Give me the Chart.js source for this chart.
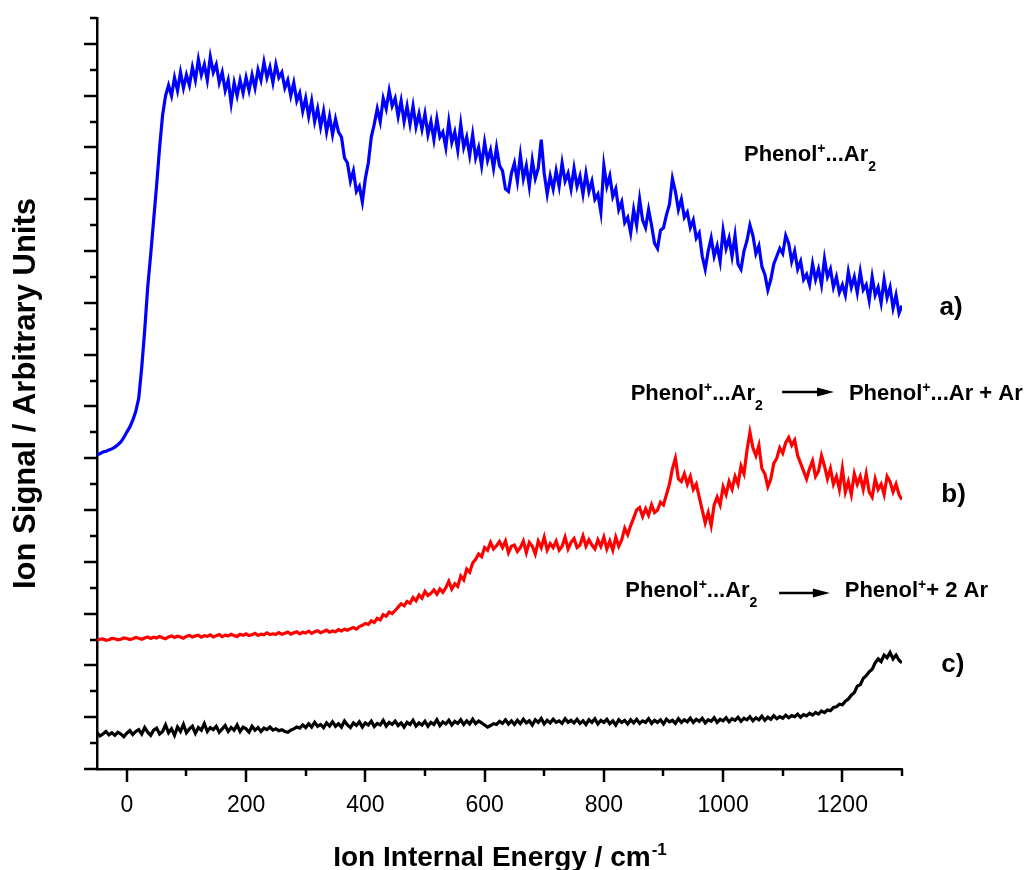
<!DOCTYPE html>
<html>
<head>
<meta charset="utf-8">
<script src="https://cdn.jsdelivr.net/npm/chart.js@4.4.1/dist/chart.umd.min.js"></script>
<style>
  html, body { margin: 0; padding: 0; background: #fff; }
  canvas { display: block; }
</style>
</head>
<body>
<canvas id="chart" width="1033" height="870"></canvas>
<script>
// ion internal energy, cm-1 (one row = 100 cm-1)
const energy = [
  -50, -45, -40, -35, -30, -25, -20, -15, -10, -5, 0, 5, 10, 15, 20, 25, 30, 35, 40, 45,
  50, 55, 60, 65, 70, 75, 80, 85, 90, 95, 100, 105, 110, 115, 120, 125, 130, 135, 140, 145,
  150, 155, 160, 165, 170, 175, 180, 185, 190, 195, 200, 205, 210, 215, 220, 225, 230, 235, 240, 245,
  250, 255, 260, 265, 270, 275, 280, 285, 290, 295, 300, 305, 310, 315, 320, 325, 330, 335, 340, 345,
  350, 355, 360, 365, 370, 375, 380, 385, 390, 395, 400, 405, 410, 415, 420, 425, 430, 435, 440, 445,
  450, 455, 460, 465, 470, 475, 480, 485, 490, 495, 500, 505, 510, 515, 520, 525, 530, 535, 540, 545,
  550, 555, 560, 565, 570, 575, 580, 585, 590, 595, 600, 605, 610, 615, 620, 625, 630, 635, 640, 645,
  650, 655, 660, 665, 670, 675, 680, 685, 690, 695, 700, 705, 710, 715, 720, 725, 730, 735, 740, 745,
  750, 755, 760, 765, 770, 775, 780, 785, 790, 795, 800, 805, 810, 815, 820, 825, 830, 835, 840, 845,
  850, 855, 860, 865, 870, 875, 880, 885, 890, 895, 900, 905, 910, 915, 920, 925, 930, 935, 940, 945,
  950, 955, 960, 965, 970, 975, 980, 985, 990, 995, 1000, 1005, 1010, 1015, 1020, 1025, 1030, 1035, 1040, 1045,
  1050, 1055, 1060, 1065, 1070, 1075, 1080, 1085, 1090, 1095, 1100, 1105, 1110, 1115, 1120, 1125, 1130, 1135, 1140, 1145,
  1150, 1155, 1160, 1165, 1170, 1175, 1180, 1185, 1190, 1195, 1200, 1205, 1210, 1215, 1220, 1225, 1230, 1235, 1240, 1245,
  1250, 1255, 1260, 1265, 1270, 1275, 1280, 1285, 1290, 1295, 1300
];

// a) Phenol+...Ar2 parent ion signal
const parentSignal = [
  12.12, 12.18, 12.24, 12.27, 12.32, 12.36, 12.43, 12.52, 12.63, 12.8, 13.01, 13.2, 13.47, 13.8, 14.32, 15.5, 16.95, 18.6, 19.85, 21.2,
  22.55, 24.0, 25.25, 26.0, 26.4, 26.0, 26.7, 26.2, 26.9, 26.3, 26.8, 26.4, 27.1, 26.6, 27.4, 26.8, 27.2, 26.6, 27.5, 26.9,
  27.2, 26.5, 26.9, 26.2, 26.6, 25.7, 26.5, 26.0, 26.6, 26.1, 26.7, 26.2, 26.8, 26.3, 27.0, 26.6, 27.3, 26.7, 27.1, 26.5,
  27.2, 26.7, 26.9, 26.3, 26.6, 26.0, 26.5, 25.8, 26.1, 25.4, 25.9, 25.2, 25.8, 25.0, 25.5, 24.8, 25.4, 24.6, 25.2, 24.5,
  25.1, 24.6, 24.4, 23.6, 23.4, 22.7, 23.1, 22.3, 22.5, 21.9, 22.8, 23.4, 24.4, 24.9, 25.5, 25.0, 25.9, 25.5, 26.2, 25.6,
  25.9, 25.2, 25.8, 25.0, 25.6, 24.9, 25.6, 24.8, 25.3, 24.7, 25.3, 24.5, 25.0, 24.3, 25.1, 24.4, 24.6, 24.0, 25.0, 24.2,
  24.6, 23.9, 24.9, 24.0, 24.4, 23.7, 24.5, 23.6, 24.0, 23.3, 24.2, 23.5, 23.9, 23.2, 24.0, 23.3, 23.1, 22.4, 22.3, 23.0,
  23.4, 22.7, 23.7, 22.8, 23.3, 22.5, 23.5, 22.8, 23.2, 24.3, 23.0, 22.2, 22.9, 22.4, 23.1, 22.5, 23.4, 22.7, 23.0, 22.4,
  23.2, 22.5, 22.9, 22.2, 23.0, 22.3, 22.7, 22.0, 22.2, 21.5, 23.3, 22.5, 22.9, 22.1, 22.4, 21.6, 21.9, 21.1, 21.3, 20.7,
  21.6, 21.0, 22.0, 21.2, 20.9, 21.6, 21.0, 20.3, 20.1, 20.8, 20.9, 21.4, 21.8, 22.8, 22.3, 21.6, 22.0, 21.3, 21.5, 20.9,
  21.2, 20.5, 20.7, 19.8, 19.3, 20.0, 20.5, 19.8, 20.2, 19.6, 20.8, 20.1, 20.5, 19.8, 20.6, 19.5, 19.3, 20.0, 20.4, 21.0,
  20.6, 19.9, 20.2, 19.4, 19.1, 18.5, 18.9, 19.5, 19.8, 20.1, 19.9, 20.6, 20.3, 19.6, 20.0, 19.3, 19.6, 18.9, 19.1, 18.7,
  19.5, 18.9, 19.3, 18.7, 19.7, 19.0, 19.3, 18.6, 19.0, 18.4, 18.7, 18.3, 19.2, 18.6, 19.0, 18.4, 19.2, 18.5, 18.7, 18.1,
  19.0, 18.3, 18.6, 18.0, 18.9, 18.2, 18.6, 17.8, 18.3, 17.6, 17.9
];

// b) Phenol+...Ar fragment
const singleLoss = [
  4.98, 5.01, 5.02, 4.97, 4.99, 5.04, 5.03, 4.99, 5.01, 5.06, 5.04, 5.0, 5.03, 5.08, 5.05, 5.01, 5.06, 5.1, 5.04, 5.09,
  5.06, 5.12, 5.07, 5.03, 5.1, 5.14, 5.08, 5.13, 5.1, 5.05, 5.13, 5.16, 5.1, 5.14, 5.17, 5.09, 5.15, 5.12, 5.18, 5.1,
  5.15, 5.19, 5.11, 5.17, 5.14, 5.2, 5.15, 5.12, 5.2, 5.16, 5.22, 5.15, 5.18, 5.24, 5.16, 5.21, 5.18, 5.26, 5.19, 5.22,
  5.2, 5.27, 5.2, 5.24, 5.29, 5.21, 5.26, 5.3, 5.22, 5.28, 5.25, 5.32, 5.24, 5.3, 5.34, 5.26, 5.31, 5.36, 5.28, 5.33,
  5.3, 5.38, 5.33, 5.4, 5.36, 5.42, 5.46, 5.4, 5.5, 5.55, 5.62, 5.58, 5.72, 5.66, 5.82, 5.76, 5.96, 5.9, 6.06, 6.0,
  6.12, 6.25, 6.38, 6.3, 6.47, 6.4, 6.62, 6.5, 6.72, 6.6, 6.86, 6.7, 6.78, 6.92, 6.75, 6.95, 6.82, 7.0, 7.25, 6.95,
  7.15, 7.05, 7.45, 7.3, 7.72, 7.6, 7.95, 8.1, 8.3, 8.2, 8.55, 8.45, 8.75, 8.5, 8.62, 8.78, 8.55, 8.8, 8.35, 8.6,
  8.65, 8.4, 8.55, 8.8, 8.35, 8.75, 8.6, 8.3, 8.8, 8.55, 8.95, 8.45, 8.7, 8.55, 8.8, 8.45, 8.6, 8.95, 8.5, 8.75,
  8.9, 8.55, 8.65, 9.0, 8.6, 8.85, 8.65, 8.5, 8.85, 8.6, 8.95, 8.5, 8.8, 8.45, 8.95, 8.6, 8.85, 9.3, 9.05, 9.4,
  9.7, 10.0, 10.1, 9.75, 10.05, 9.8, 10.2, 9.9, 10.0, 10.3, 10.2, 10.6, 11.0, 11.6, 12.0, 11.2, 11.1, 11.4, 11.0, 11.3,
  10.8, 11.0, 10.5, 10.0, 9.5, 9.9, 9.4, 10.2, 10.5, 10.2, 10.9, 10.6, 11.1, 10.8, 11.3, 11.0, 11.7, 11.4, 12.3, 13.0,
  12.4, 12.1, 12.5, 11.6, 11.4, 10.9, 11.2, 11.8, 12.0, 12.4, 12.2, 12.6, 12.8, 12.5, 12.7, 12.1, 11.8, 11.5, 11.2, 11.6,
  11.9, 11.3, 11.5, 12.1, 11.7, 11.2, 11.6, 11.0, 11.3, 10.8, 11.6, 10.7, 11.1, 10.6, 11.4, 11.0, 11.3, 10.8, 11.4, 10.7,
  10.5, 11.2, 10.8, 11.0, 10.6, 11.3, 11.1, 10.7, 11.0, 10.6, 10.4
];

// c) Phenol+ fragment
const doubleLoss = [
  1.4, 1.28, 1.35, 1.45, 1.32, 1.4, 1.3, 1.42, 1.35, 1.25, 1.38, 1.48, 1.33, 1.45, 1.52, 1.35, 1.6, 1.42, 1.3, 1.5,
  1.58, 1.35, 1.45, 1.7, 1.4, 1.55, 1.3, 1.62, 1.45, 1.72, 1.4, 1.55, 1.65, 1.38, 1.6, 1.5, 1.75, 1.45, 1.6, 1.52,
  1.65, 1.42, 1.55, 1.68, 1.45, 1.6, 1.5, 1.7, 1.45, 1.62, 1.55, 1.42, 1.65, 1.5, 1.6, 1.45, 1.58, 1.52, 1.62, 1.5,
  1.55, 1.48, 1.52, 1.45, 1.42, 1.5, 1.55, 1.62, 1.58, 1.7, 1.6, 1.75, 1.62, 1.8, 1.65, 1.72, 1.6, 1.78, 1.66, 1.82,
  1.65, 1.75, 1.62, 1.85, 1.7, 1.6, 1.78, 1.68, 1.82, 1.62, 1.78, 1.7, 1.85, 1.64, 1.76, 1.7, 1.88, 1.66, 1.8, 1.72,
  1.85, 1.68, 1.78, 1.62, 1.8, 1.72, 1.88, 1.66, 1.78, 1.7, 1.84, 1.65, 1.8, 1.72, 1.9, 1.68, 1.82, 1.74, 1.88, 1.7,
  1.84, 1.76, 1.9, 1.72, 1.86, 1.74, 1.92, 1.75, 1.85, 1.78, 1.7, 1.62, 1.68, 1.75, 1.72, 1.84, 1.76, 1.9, 1.74, 1.86,
  1.72, 1.88, 1.75, 1.92, 1.78, 1.86, 1.7, 1.9, 1.8, 1.95, 1.74, 1.88, 1.78, 1.92, 1.8, 1.86, 1.76, 1.94, 1.8, 1.88,
  1.78, 1.92, 1.76, 1.86, 1.72, 1.9, 1.8, 1.94, 1.74, 1.88, 1.8, 1.92, 1.75, 1.86, 1.7, 1.9, 1.8, 1.88, 1.74, 1.9,
  1.78, 1.92, 1.76, 1.86, 1.8, 1.94, 1.76, 1.88, 1.8, 1.9, 1.74, 1.92, 1.82, 1.88, 1.76, 1.94, 1.8, 1.9, 1.82, 1.96,
  1.8, 1.92, 1.84, 1.96, 1.78, 1.9, 1.84, 1.98, 1.8, 1.92, 1.86, 1.98, 1.82, 1.94, 1.88, 2.0, 1.84, 1.96, 1.9, 2.02,
  1.86, 1.98, 1.9, 2.04, 1.88, 2.0, 1.92, 2.06, 1.94, 2.02, 1.96, 2.08, 1.98, 2.06, 2.02, 2.12, 2.0, 2.1, 2.05, 2.15,
  2.08, 2.18, 2.12, 2.24, 2.18, 2.28, 2.25, 2.38, 2.4, 2.5, 2.48, 2.62, 2.7, 2.85, 2.95, 3.2, 3.25, 3.5, 3.6, 3.75,
  3.85, 4.1, 4.25, 4.15, 4.4, 4.3, 4.5, 4.25, 4.4, 4.2, 4.1
];

const xTickValues = [0, 200, 400, 600, 800, 1000, 1200];
const xTickLabels = ["0", "200", "400", "600", "800", "1000", "1200"];
const xTitle = "Ion Internal Energy / cm";
const xTitleSup = "-1";
const yTitle = "Ion Signal / Arbitrary Units";

const FONT = '"Liberation Sans", Arial, Helvetica, sans-serif';

function points(ys) {
  return energy.map((x, i) => ({ x, y: ys[i] }));
}

// text pieces: {t, sup, sub}
function drawRich(ctx, parts, x, y, size) {
  let cx = x;
  for (const p of parts) {
    const small = p.sup || p.sub;
    const s = small ? Math.round(size * 0.64) : size;
    ctx.font = `bold ${s}px ${FONT}`;
    let dy = 0;
    if (p.sup) dy = -size * 0.38;
    if (p.sub) dy = size * 0.45;
    ctx.fillText(p.t, cx, y + dy);
    cx += ctx.measureText(p.t).width + (p.sub ? 2 : 0);
  }
  return cx;
}

function drawArrow(ctx, x1, x2, y) {
  ctx.lineWidth = 2.5;
  ctx.beginPath();
  ctx.moveTo(x1, y);
  ctx.lineTo(x2 - 14, y);
  ctx.stroke();
  ctx.beginPath();
  ctx.moveTo(x2, y);
  ctx.lineTo(x2 - 17, y - 4.5);
  ctx.lineTo(x2 - 17, y + 4.5);
  ctx.closePath();
  ctx.fill();
}

const parent = [{ t: "Phenol" }, { t: "+", sup: true }, { t: "...Ar" }, { t: "2", sub: true }];

const decor = {
  id: "decor",
  afterDraw(chart) {
    const { ctx, chartArea: a, scales: { x, y } } = chart;
    ctx.save();
    ctx.strokeStyle = "#000";
    ctx.fillStyle = "#000";
    ctx.lineWidth = 2.5;

    // y ticks, major every 2 units
    ctx.beginPath();
    for (let v = 0; v <= 29; v++) {
      const py = Math.round(y.getPixelForValue(v));
      const len = v % 2 === 0 ? 13 : 7;
      ctx.moveTo(a.left - len, py);
      ctx.lineTo(a.left, py);
    }
    // x ticks, major every 200
    for (let v = 0; v <= 1300; v += 100) {
      const px = Math.round(x.getPixelForValue(v));
      const len = v % 200 === 0 ? 13 : 7;
      ctx.moveTo(px, a.bottom);
      ctx.lineTo(px, a.bottom + len);
    }
    ctx.stroke();

    // axis titles
    ctx.textAlign = "left";
    ctx.textBaseline = "alphabetic";
    ctx.font = `bold 28px ${FONT}`;
    const w1 = ctx.measureText(xTitle).width;
    ctx.font = `bold 17px ${FONT}`;
    const w2 = ctx.measureText(xTitleSup).width;
    const tx = (a.left + a.right) / 2 - (w1 + w2) / 2;
    ctx.font = `bold 28px ${FONT}`;
    ctx.fillText(xTitle, tx, 866);
    ctx.font = `bold 17px ${FONT}`;
    ctx.fillText(xTitleSup, tx + w1 + 1, 855);

    ctx.save();
    ctx.translate(35, (a.top + a.bottom) / 2);
    ctx.rotate(-Math.PI / 2);
    ctx.textAlign = "center";
    ctx.font = `bold 31px ${FONT}`;
    ctx.fillText(yTitle, 0, 0);
    ctx.restore();

    // annotations, anchored in data units
    const X = v => x.getPixelForValue(v);
    const Y = v => y.getPixelForValue(v);
    ctx.textAlign = "left";
    drawRich(ctx, parent, X(1035), Y(23.47), 22);

    drawRich(ctx, parent, X(845), Y(14.25), 22);
    drawArrow(ctx, X(1099), X(1186), Y(14.56));
    drawRich(ctx, [{ t: "Phenol" }, { t: "+", sup: true }, { t: "...Ar + Ar" }], X(1211), Y(14.25), 22);

    drawRich(ctx, parent, X(836), Y(6.64), 22);
    drawArrow(ctx, X(1094), X(1179), Y(6.8));
    drawRich(ctx, [{ t: "Phenol" }, { t: "+", sup: true }, { t: "+ 2 Ar" }], X(1204), Y(6.64), 22);

    ctx.font = `bold 26px ${FONT}`;
    ctx.fillText("a)", X(1363), Y(17.53));
    ctx.fillText("b)", X(1366), Y(10.31));
    ctx.fillText("c)", X(1366), Y(3.75));
    ctx.restore();
  }
};

const line = (data, color) => ({
  data: points(data),
  borderColor: color,
  borderWidth: 3.2,
  pointRadius: 0,
  tension: 0,
  fill: false
});

new Chart(document.getElementById("chart"), {
  type: "line",
  data: {
    datasets: [
      line(parentSignal, "#0000ff"),
      line(singleLoss, "#ff0000"),
      line(doubleLoss, "#000000")
    ]
  },
  options: {
    responsive: false,
    animation: false,
    devicePixelRatio: 1,
    layout: { padding: { top: 18, right: 131, left: 0, bottom: 0 } },
    scales: {
      x: {
        type: "linear",
        min: -50,
        max: 1300,
        afterFit: s => { s.height = 101; },
        afterBuildTicks: s => { s.ticks = xTickValues.map(value => ({ value })); },
        grid: { display: false, drawTicks: false },
        border: { display: true, color: "#000", width: 2.5 },
        ticks: {
          autoSkip: false,
          maxRotation: 0,
          padding: 23,
          color: "#000",
          font: { family: FONT, size: 23 },
          callback: v => xTickLabels[xTickValues.indexOf(v)] ?? ""
        }
      },
      y: {
        min: 0,
        max: 29,
        afterFit: s => { s.width = 97; },
        grid: { display: false, drawTicks: false },
        border: { display: true, color: "#000", width: 2.5 },
        ticks: { display: false }
      }
    },
    plugins: {
      legend: { display: false },
      tooltip: { enabled: false }
    }
  },
  plugins: [decor]
});
</script>
</body>
</html>
